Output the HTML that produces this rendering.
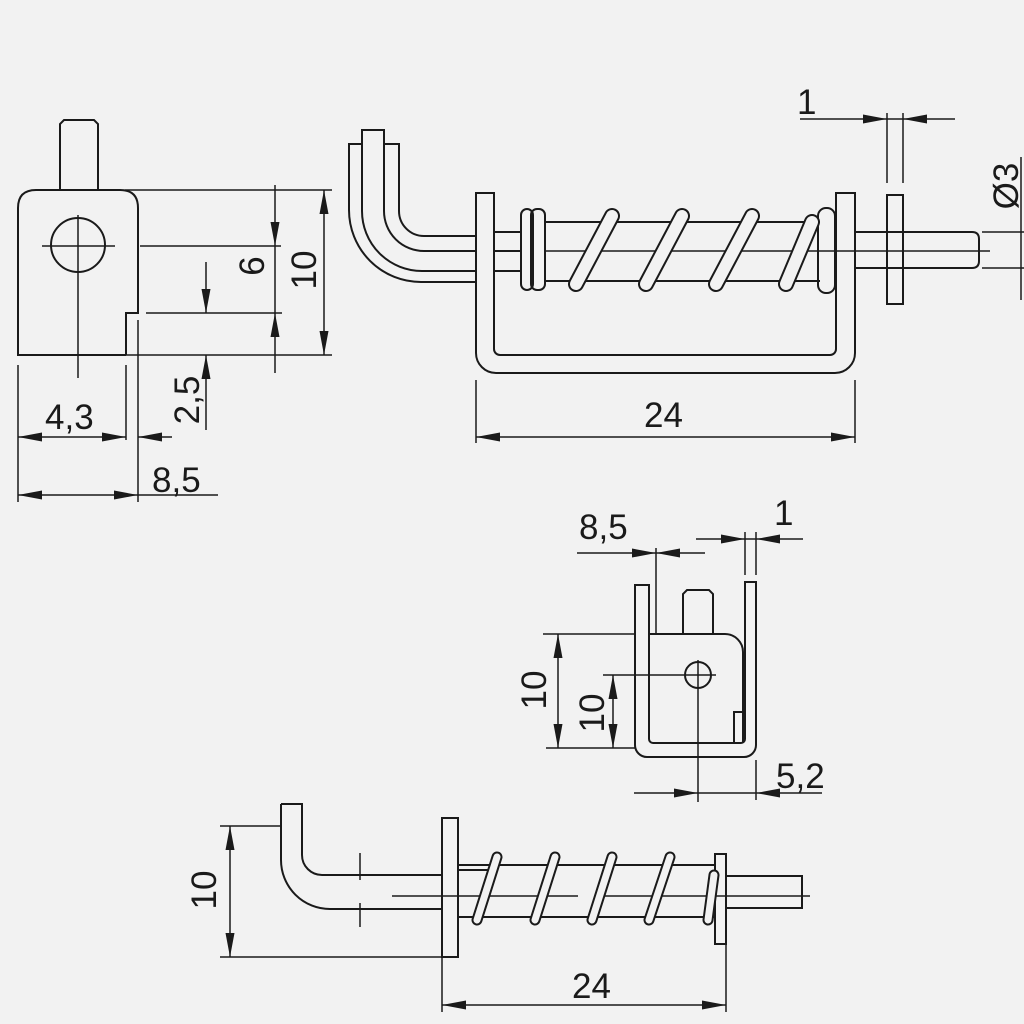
<!DOCTYPE html>
<html><head><meta charset="utf-8"><style>
html,body{margin:0;padding:0;background:#f2f2f2}
svg{display:block}
text{font-family:"Liberation Sans",sans-serif;font-size:35px;fill:#1a1a1a}
</style></head><body>
<svg width="1024" height="1024" viewBox="0 0 1024 1024" xmlns="http://www.w3.org/2000/svg">
<defs>
<marker id="a" viewBox="0 0 24 10" refX="24" refY="5" markerWidth="24" markerHeight="10" markerUnits="userSpaceOnUse" orient="auto-start-reverse"><path d="M0,0.5 L24,5 L0,9.5 Z" fill="#1a1a1a"/></marker>
</defs>
<rect width="1024" height="1024" fill="#f2f2f2"/>
<g fill="none" stroke="#1a1a1a" stroke-width="2">
<!-- VIEW 1 -->
<path d="M60,190 V124 L64,120 H94 L98,124 V190"/>
<path d="M126,355 H18 V208 Q18,190 36,190 H120 Q138,190 138,208 V313 H126 V355"/>
<circle cx="78" cy="245" r="27"/>
<path d="M42,246 H115 M78,215 V378" stroke-width="1.5"/>
<g stroke-width="1.5">
<path d="M125,190 H332 M140,246 H281 M146,313 H282 M126,355 H332"/>
<path d="M18,365 V502 M126,365 V440 M138,320 V502"/>
</g>
<g stroke-width="1.5">
<path d="M275,185 V246" marker-end="url(#a)"/>
<path d="M275,373 V313" marker-end="url(#a)"/>
<path d="M275,246 V313"/>
<path d="M324,190 V355" marker-start="url(#a)" marker-end="url(#a)"/>
<path d="M206,262 V313" marker-end="url(#a)"/>
<path d="M206,430 V355" marker-end="url(#a)"/>
<path d="M18,437 H126" marker-start="url(#a)" marker-end="url(#a)"/>
<path d="M172,437 H138" marker-end="url(#a)"/>
<path d="M18,495 H138" marker-start="url(#a)" marker-end="url(#a)"/>
<path d="M138,495 H218"/>
</g>

<!-- VIEW 2 -->
<path d="M349,190 V210 A72,72 0 0 0 421,282 H476"/>
<path d="M362,211 A60,60 0 0 0 422,271 H476"/>
<path d="M384,211 A40,40 0 0 0 424,251 H476"/>
<path d="M399,211 A25,25 0 0 0 424,236 H476"/>
<path d="M349,190 V144 H362 M362,211 V130 H384 V211 M384,144 H399 V211"/>
<path d="M476,193 V353 A20,20 0 0 0 496,373 H835 A20,20 0 0 0 855,353 V193 H836 V349 A6,6 0 0 1 830,355 H500 A6,6 0 0 1 494,349 V193 Z"/>
<path d="M494,232 H521 M494,251 H521 M494,271 H521"/>
<path d="M545,222 H820 M545,281 H820"/>
<path d="M545,251 H855 M855,251 H990" stroke-width="1.5"/>
<rect x="521" y="209" width="12" height="81" rx="6"/>
<rect x="531" y="209" width="14" height="81" rx="6"/>
<rect x="818" y="208" width="17" height="85" rx="8"/>
<path d="M855,232 H972 Q979,232 979,239 V261 Q979,268 972,268 H855"/>
<rect x="887" y="195" width="16" height="109"/>
<path d="M887,113 V183 M903,113 V183" stroke-width="1.5"/>
<path d="M800,119 H887" marker-end="url(#a)" stroke-width="1.5"/>
<path d="M955,119 H903" marker-end="url(#a)" stroke-width="1.5"/>
<path d="M887,119 H903" stroke-width="1.5"/>
<path d="M982,232 H1024 M982,268 H1024 M1021,157 V300" stroke-width="1.5"/>
<path d="M476,380 V443 M855,380 V443" stroke-width="1.5"/>
<path d="M476,437 H855" marker-start="url(#a)" marker-end="url(#a)" stroke-width="1.5"/>

<!-- VIEW 3 -->
<path d="M635,585 V745 A12,12 0 0 0 647,757 H744 A12,12 0 0 0 756,745 V582 H745 V739 A4,4 0 0 1 741,743 H653 A4,4 0 0 1 649,739 V585 Z"/>
<path d="M683,633 V594 L687,590 H709 L713,594 V633"/>
<path d="M649,634 H725 A18,18 0 0 1 743,652 V743 M734,743 V712 H743"/>
<circle cx="698" cy="675" r="13"/>
<g stroke-width="1.5">
<path d="M603,675 H716 M698,660 V802"/>
<path d="M543,634 H635 M546,748 H635"/>
<path d="M558,634 V748" marker-start="url(#a)" marker-end="url(#a)"/>
<path d="M613,675 V748" marker-start="url(#a)" marker-end="url(#a)"/>
<path d="M656,548 V634"/>
<path d="M577,553 H656" marker-end="url(#a)"/>
<path d="M705,553 H656" marker-end="url(#a)"/>
<path d="M745,532 V575 M756,532 V575"/>
<path d="M696,539 H745" marker-end="url(#a)"/>
<path d="M803,539 H756" marker-end="url(#a)"/>
<path d="M745,539 H756"/>
<path d="M756,760 V800"/>
<path d="M634,793 H698" marker-end="url(#a)"/>
<path d="M822,793 H756" marker-end="url(#a)"/>
<path d="M698,793 H756"/>
</g>

<!-- VIEW 4 -->
<path d="M281,804 V860 A49,49 0 0 0 330,909 H442"/>
<path d="M281,804 H302 V855 A20,20 0 0 0 322,875 H442"/>
<path d="M360,853 V880 M360,903 V927" stroke-width="1.5"/>
<rect x="442" y="818" width="16" height="139"/>
<path d="M458,865 H715 M458,917 H715 M458,870 H490"/>
<rect x="715" y="854" width="11" height="90"/>
<path d="M726,876 H802 V908 H726"/>
<path d="M392,896 H578 M600,896 H810" stroke-width="1.5"/>
<g stroke-width="1.5">
<path d="M220,826 H281 M220,957 H442"/>
<path d="M230,826 V957" marker-start="url(#a)" marker-end="url(#a)"/>
<path d="M442,957 V1012 M726,944 V1012"/>
<path d="M442,1005 H726" marker-start="url(#a)" marker-end="url(#a)"/>
</g>
</g>

<!-- springs: outline bands -->
<g stroke-linecap="round" fill="none">
<g stroke="#1a1a1a" stroke-width="16">
<path d="M576,284 L612,216 M646,284 L682,216 M716,284 L752,216 M786,284 L812,222"/>
</g>
<g stroke="#f2f2f2" stroke-width="12">
<path d="M576,284 L612,216 M646,284 L682,216 M716,284 L752,216 M786,284 L812,222"/>
</g>
<g stroke="#1a1a1a" stroke-width="11">
<path d="M477,920 L497,857 M535,920 L555,857 M592,920 L612,857 M649,920 L670,857 M708,920 L714,875"/>
</g>
<g stroke="#f2f2f2" stroke-width="7">
<path d="M477,920 L497,857 M535,920 L555,857 M592,920 L612,857 M649,920 L670,857 M708,920 L714,875"/>
</g>
</g>

<!-- text -->
<text x="45" y="429">4,3</text>
<text x="152" y="492">8,5</text>
<text transform="translate(264,266) rotate(-90)" text-anchor="middle">6</text>
<text transform="translate(316,270) rotate(-90)" text-anchor="middle">10</text>
<text transform="translate(199,400) rotate(-90)" text-anchor="middle">2,5</text>
<text x="644" y="427">24</text>
<text x="797" y="114">1</text>
<text transform="translate(1018,186) rotate(-90)" text-anchor="middle">Ø3</text>
<text x="579" y="539">8,5</text>
<text x="774" y="525">1</text>
<text transform="translate(546,690) rotate(-90)" text-anchor="middle">10</text>
<text transform="translate(604,713) rotate(-90)" text-anchor="middle">10</text>
<text x="776" y="788">5,2</text>
<text transform="translate(216,890) rotate(-90)" text-anchor="middle">10</text>
<text x="572" y="998">24</text>
</svg>
</body></html>
